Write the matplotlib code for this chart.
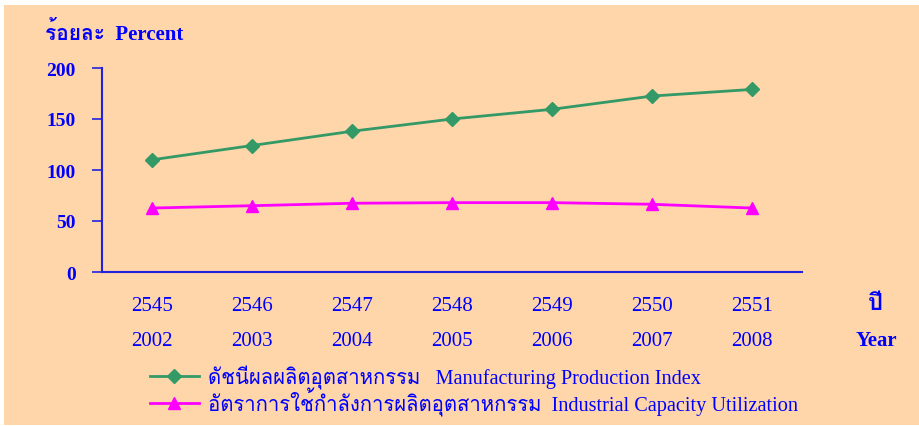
import matplotlib
matplotlib.use("Agg")
import matplotlib.pyplot as plt
from matplotlib import font_manager, ft2font
from matplotlib.patches import Rectangle


# ---- data ----
years_be = ["2545", "2546", "2547", "2548", "2549", "2550", "2551"]
years_ad = ["2002", "2003", "2004", "2005", "2006", "2007", "2008"]
mpi = [110, 124, 138, 150, 159.5, 172.5, 179]
capacity = [62.7, 65, 67.4, 68, 68, 66.4, 62.7]
y_ticks = [0, 50, 100, 150, 200]

label_mpi = "ดัชนีผลผลิตอุตสาหกรรม   Manufacturing Production Index"
label_cap = "อัตราการใช้กำลังการผลิตอุตสาหกรรม  Industrial Capacity Utilization"


def find_thai_font():
    # look for any installed font that has Thai glyphs
    for f in font_manager.fontManager.ttflist:
        try:
            cmap = ft2font.FT2Font(f.fname).get_charmap()
        except Exception:
            continue
        if 0x0E01 in cmap and 0x0E21 in cmap:
            return f.name
    return "DejaVu Sans"


thai = find_thai_font()
fonts = ["Liberation Serif", thai, "DejaVu Sans"]
plt.rcParams["font.family"] = fonts

blue = "#0000FF"
W, H = 920, 427
fig = plt.figure(figsize=(W / 100, H / 100), dpi=100)
fig.patch.set_facecolor("white")
fig.patches.append(Rectangle((4 / W, 1 / H), 915 / W, 420 / H,
                             transform=fig.transFigure, facecolor="#FED6AA",
                             edgecolor="none", zorder=-10))

ax = fig.add_axes([102 / W, (H - 273) / H, 700 / W, 204 / H])
ax.set_facecolor("none")

x = list(range(len(years_be)))
ax.plot(x, mpi, color="#339966", lw=2, marker="D", markersize=7.5,
        label=label_mpi, clip_on=False)
ax.plot(x, capacity, color="#FF00FF", lw=2, marker="^", markersize=9,
        label=label_cap, clip_on=False)

ax.set_xlim(-0.5, 6.5)
ax.set_ylim(0, 200)
ax.set_yticks(y_ticks)
ax.set_yticklabels([str(v) for v in y_ticks], fontweight="bold", fontsize=14,
                   color=blue)
ax.tick_params(axis="y", length=7, width=1.2, color="#2222DD", pad=12)
ax.set_xticks(x)
ax.set_xticklabels([a + "\n" + b for a, b in zip(years_be, years_ad)],
                   fontsize=15, color=blue, linespacing=2.15)
ax.tick_params(axis="x", length=0, pad=17)

for s in ["top", "right"]:
    ax.spines[s].set_visible(False)
for s in ["left", "bottom"]:
    ax.spines[s].set_color("#2222DD")
    ax.spines[s].set_linewidth(1.5)

fig.text(45 / W, 1 - 33 / H, "ร้อยละ  Percent", fontsize=15, fontweight="bold",
         color=blue, va="center", ha="left")
fig.text(875 / W, 1 - 305 / H, "ปี", fontsize=17, fontweight="bold",
         color=blue, va="center", ha="center")
fig.text(876 / W, 1 - 341 / H, "Year", fontsize=15, fontweight="bold",
         color=blue, va="center", ha="center")

leg = ax.legend(loc="upper left", bbox_to_anchor=(150 / W, 1 - 366 / H),
                bbox_transform=fig.transFigure, frameon=False, fontsize=14.6,
                borderpad=0, borderaxespad=0, handlelength=2.4,
                handletextpad=0.45, labelspacing=-0.12)
for t in leg.get_texts():
    t.set_color(blue)

fig.savefig("out.png", dpi=100)
